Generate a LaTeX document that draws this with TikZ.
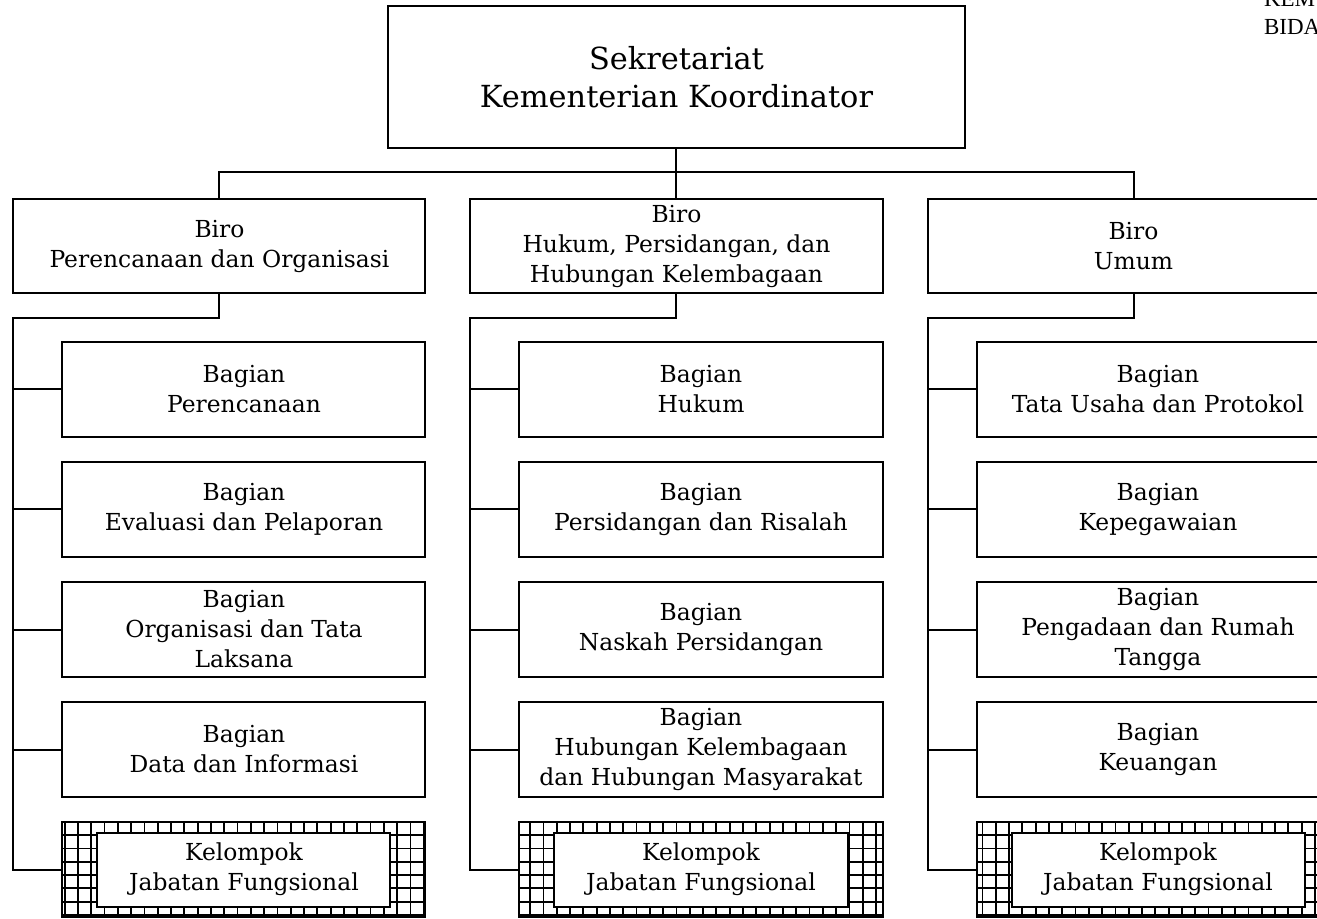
\documentclass[tikz,border=0pt]{standalone}
\usepackage{fontspec}
\setmainfont{DejaVu Serif}
\newfontfamily\judulfont{Liberation Serif}
\usetikzlibrary{positioning}

\begin{document}
\begin{tikzpicture}[line width=1pt,
  kotak/.style = {draw, align=center, inner sep=0pt, outer sep=0pt, font=\fontsize{11.7}{15}\selectfont},
  sekr/.style = {kotak, minimum width=288.5pt, minimum height=71pt, font=\fontsize{15.2}{19}\selectfont},
  biro/.style = {kotak, minimum width=206pt, minimum height=47pt},
  bagian/.style = {kotak, minimum width=181.5pt, minimum height=47.5pt},
  isi/.style = {kotak, fill=white, minimum width=146.5pt, minimum height=37pt},
  kisi/.style = {line width=0.9pt, step=6.65pt},
  judul/.style = {anchor=base west, inner sep=0pt, font=\judulfont\fontsize{11.5}{14}\selectfont}]
\useasboundingbox (-338.25pt,-421pt) rectangle (320.25pt,38.5pt);

\node[sekr] (sekr) {Sekretariat\\Kementerian Koordinator};
\node[biro] (bhk) [below=25.5pt of sekr] {Biro\\Hukum, Persidangan, dan\\Hubungan Kelembagaan};
\node[biro] (bpo) [left=22.5pt of bhk] {Biro\\Perencanaan dan Organisasi};
\node[biro] (bu) [right=22.5pt of bhk] {Biro\\Umum};

% Biro Perencanaan dan Organisasi
\node[bagian] (po1) [below left=24.5pt and 0pt of bpo.south east] {Bagian\\Perencanaan};
\node[bagian] (po2) [below=12.5pt of po1] {Bagian\\Evaluasi dan Pelaporan};
\node[bagian] (po3) [below=12.5pt of po2] {Bagian\\Organisasi dan Tata\\Laksana};
\node[bagian] (po4) [below=12.5pt of po3] {Bagian\\Data dan Informasi};
\node[bagian] (kjf1) [below=12.5pt of po4] {};

% Biro Hukum, Persidangan, dan Hubungan Kelembagaan
\node[bagian] (hk1) [below left=24.5pt and 0pt of bhk.south east] {Bagian\\Hukum};
\node[bagian] (hk2) [below=12.5pt of hk1] {Bagian\\Persidangan dan Risalah};
\node[bagian] (hk3) [below=12.5pt of hk2] {Bagian\\Naskah Persidangan};
\node[bagian] (hk4) [below=12.5pt of hk3] {Bagian\\Hubungan Kelembagaan\\dan Hubungan Masyarakat};
\node[bagian] (kjf2) [below=12.5pt of hk4] {};

% Biro Umum
\node[bagian] (u1) [below left=24.5pt and 0pt of bu.south east] {Bagian\\Tata Usaha dan Protokol};
\node[bagian] (u2) [below=12.5pt of u1] {Bagian\\Kepegawaian};
\node[bagian] (u3) [below=12.5pt of u2] {Bagian\\Pengadaan dan Rumah\\Tangga};
\node[bagian] (u4) [below=12.5pt of u3] {Bagian\\Keuangan};
\node[bagian] (kjf3) [below=12.5pt of u4] {};

% kelompok jabatan fungsional
\draw[kisi] (kjf1.south west) grid (kjf1.north east);
\draw[kisi] (kjf2.south west) grid (kjf2.north east);
\draw[kisi] (kjf3.south west) grid (kjf3.north east);
\node[isi] (jf1) at (kjf1) {Kelompok\\Jabatan Fungsional};
\node[isi] (jf2) at (kjf2) {Kelompok\\Jabatan Fungsional};
\node[isi] (jf3) at (kjf3) {Kelompok\\Jabatan Fungsional};

\node[judul] (kem) at (293.25pt,35pt) {KEM};
\node[judul] (bida) at ([yshift=-14pt]kem.base west) {BIDA};

\draw (sekr.south) -- ++(0,-12pt) coordinate (pusat);
\draw (bpo.north) |- (pusat) -| (bu.north);
\draw (bhk.north) -- (bhk.north |- pusat);

\draw (bpo.south) -- ++(0,-12.5pt) -| (bpo.west |- kjf1.west) -- (kjf1.west);
\draw (po1.west) -- (po1.west -| bpo.west);
\draw (po2.west) -- (po2.west -| bpo.west);
\draw (po3.west) -- (po3.west -| bpo.west);
\draw (po4.west) -- (po4.west -| bpo.west);

\draw (bhk.south) -- ++(0,-12.5pt) -| (bhk.west |- kjf2.west) -- (kjf2.west);
\draw (hk1.west) -- (hk1.west -| bhk.west);
\draw (hk2.west) -- (hk2.west -| bhk.west);
\draw (hk3.west) -- (hk3.west -| bhk.west);
\draw (hk4.west) -- (hk4.west -| bhk.west);

\draw (bu.south) -- ++(0,-12.5pt) -| (bu.west |- kjf3.west) -- (kjf3.west);
\draw (u1.west) -- (u1.west -| bu.west);
\draw (u2.west) -- (u2.west -| bu.west);
\draw (u3.west) -- (u3.west -| bu.west);
\draw (u4.west) -- (u4.west -| bu.west);
\end{tikzpicture}
\end{document}
